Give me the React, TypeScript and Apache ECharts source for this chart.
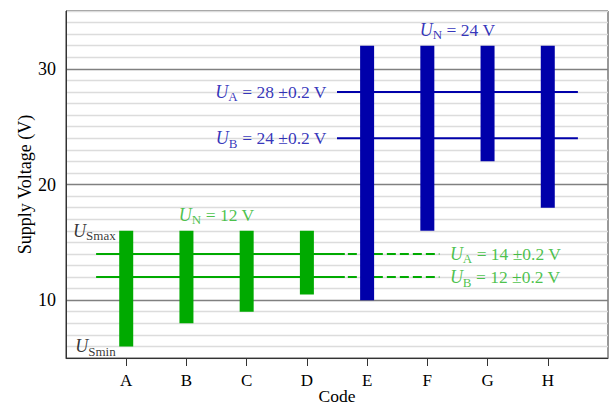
import React, { useEffect, useRef } from "react";
import * as echarts from "echarts";

const categories = ["A", "B", "C", "D", "E", "F", "G", "H"];
const supplyMin = [6, 8, 9, 10.5, 10, 16, 22, 18];
const supplyMax = [16, 16, 16, 16, 32, 32, 32, 32];
const nominal = ["12", "12", "12", "12", "24", "24", "24", "24"];

const yTickLabels = [10, 20, 30];
const refs12 = [14, 12];
const refs24 = [28, 24];
const refTol = 0.2;

const FONT = "Liberation Serif, Times New Roman, serif";
const GREEN = "#00aa00";
const GREEN_TEXT = "#1db31d";
const BLUE = "#0000aa";

const richStyles = (color: string) => ({
  u: { fontFamily: FONT, fontStyle: "italic", fontSize: 18, color, lineHeight: 20 },
  s: { fontFamily: FONT, fontSize: 13, color, padding: [10, 0, 0, 0] },
  t: { fontFamily: FONT, fontSize: 17.5, color, lineHeight: 20 },
});

export default function App() {
  const ref = useRef<HTMLDivElement>(null);
  useEffect(() => {
    if (!ref.current) return;
    const chart = echarts.init(ref.current, null, { renderer: "svg" });

    const barData = categories.map((c, i) => [i + 1, supplyMin[i], supplyMax[i], nominal[i]]);

    const lineSeries: any[] = [];
    refs12.forEach((v) => {
      lineSeries.push({
        type: "line",
        data: [[0.5, v], [4.63, v]],
        showSymbol: false,
        silent: true,
        lineStyle: { color: GREEN, width: 2 },
        z: 1,
      });
      lineSeries.push({
        type: "line",
        data: [[4.68, v], [6.2, v]],
        showSymbol: false,
        silent: true,
        lineStyle: { color: GREEN, width: 2, type: [9, 4] },
        z: 1,
      });
    });
    refs24.forEach((v) => {
      lineSeries.push({
        type: "line",
        data: [[4.5, v], [8.5, v]],
        showSymbol: false,
        silent: true,
        lineStyle: { color: BLUE, width: 2 },
        z: 1,
      });
    });

    const ann = (x: number, y: number, text: string, color: string, position: string, distance: number) => ({
      value: [x, y],
      label: {
        show: true,
        position,
        distance,
        formatter: text,
        rich: richStyles(color),
      },
    });

    const annotations = [
      ann(1, 16, "{u|U}{s|Smax}", "#000", "left", 10),
      ann(1, 6, "{u|U}{s|Smin}", "#000", "left", 10),
      ann(2.5, 16, "{u|U}{s|N}{t| = 12 V}", GREEN_TEXT, "top", 4),
      ann(6.5, 32, "{u|U}{s|N}{t| = 24 V}", BLUE, "top", 4),
      ann(4.5, refs24[0], `{u|U}{s|A}{t| = ${refs24[0]} ±${refTol} V}`, BLUE, "left", 10),
      ann(4.5, refs24[1], `{u|U}{s|B}{t| = ${refs24[1]} ±${refTol} V}`, BLUE, "left", 10),
      ann(6.2, refs12[0], `{u|U}{s|A}{t| = ${refs12[0]} ±${refTol} V}`, GREEN_TEXT, "right", 10),
      ann(6.2, refs12[1], `{u|U}{s|B}{t| = ${refs12[1]} ±${refTol} V}`, GREEN_TEXT, "right", 10),
    ];

    const gridColors: string[] = [];
    for (let i = 0; i < 10; i++) gridColors.push(i === 5 ? "#808080" : "#dcdcdc");

    chart.setOption({
      animation: false,
      backgroundColor: "#fff",
      grid: {
        left: 66,
        right: 3,
        top: 11,
        bottom: 47,
        containLabel: false,
        outerBoundsMode: "none",
        show: true,
        borderColor: "#333",
        borderWidth: 1,
        backgroundColor: "#fff",
      },
      xAxis: {
        type: "value",
        min: 0,
        max: 9,
        interval: 1,
        name: "Code",
        nameLocation: "middle",
        nameGap: 30,
        nameMoveOverlap: false,
        nameTextStyle: { fontFamily: FONT, fontSize: 17.5, lineHeight: 15, color: "#000", verticalAlign: "top" },
        axisLine: { lineStyle: { color: "#333", width: 1 } },
        axisTick: { show: true, length: 8, customValues: [1, 2, 3, 4, 5, 6, 7, 8], lineStyle: { color: "#333" } },
        axisLabel: {
          customValues: [1, 2, 3, 4, 5, 6, 7, 8],
          formatter: (v: number) => categories[Math.round(v) - 1] ?? "",
          fontFamily: FONT,
          fontSize: 17,
          color: "#000",
          margin: 14,
        },
        splitLine: { show: false },
      },
      yAxis: {
        type: "value",
        min: 5,
        max: 35,
        interval: 1,
        name: "Supply Voltage (V)",
        nameLocation: "middle",
        nameGap: 32,
        nameMoveOverlap: false,
        nameTextStyle: { fontFamily: FONT, fontSize: 18, color: "#000" },
        axisLine: { show: true, lineStyle: { color: "#333", width: 1 } },
        axisTick: { show: false },
        axisLabel: {
          formatter: (v: number) => (yTickLabels.includes(v) ? String(v) : ""),
          fontFamily: FONT,
          fontSize: 18,
          color: "#000",
          margin: 10,
        },
        splitLine: { show: true, lineStyle: { color: gridColors, width: 1.3 } },
      },
      series: [
        ...lineSeries,
        {
          type: "custom",
          data: barData,
          z: 3,
          silent: true,
          renderItem: (params: any, api: any) => {
            const x = api.value(0);
            const lo = api.coord([x, api.value(1)]);
            const hi = api.coord([x, api.value(2)]);
            const w = 14;
            const idx = params.dataIndex;
            return {
              type: "rect",
              shape: { x: lo[0] - w / 2, y: hi[1], width: w, height: lo[1] - hi[1] },
              style: { fill: nominal[idx] === "12" ? GREEN : BLUE },
            };
          },
        },
        {
          type: "scatter",
          data: annotations,
          symbolSize: 1,
          itemStyle: { color: "rgba(0,0,0,0)" },
          silent: true,
          z: 5,
        },
      ],
    });
    return () => chart.dispose();
  }, []);
  return <div ref={ref} style={{ width: 611, height: 405, position: "absolute", left: 0, top: 0 }} />;
}
